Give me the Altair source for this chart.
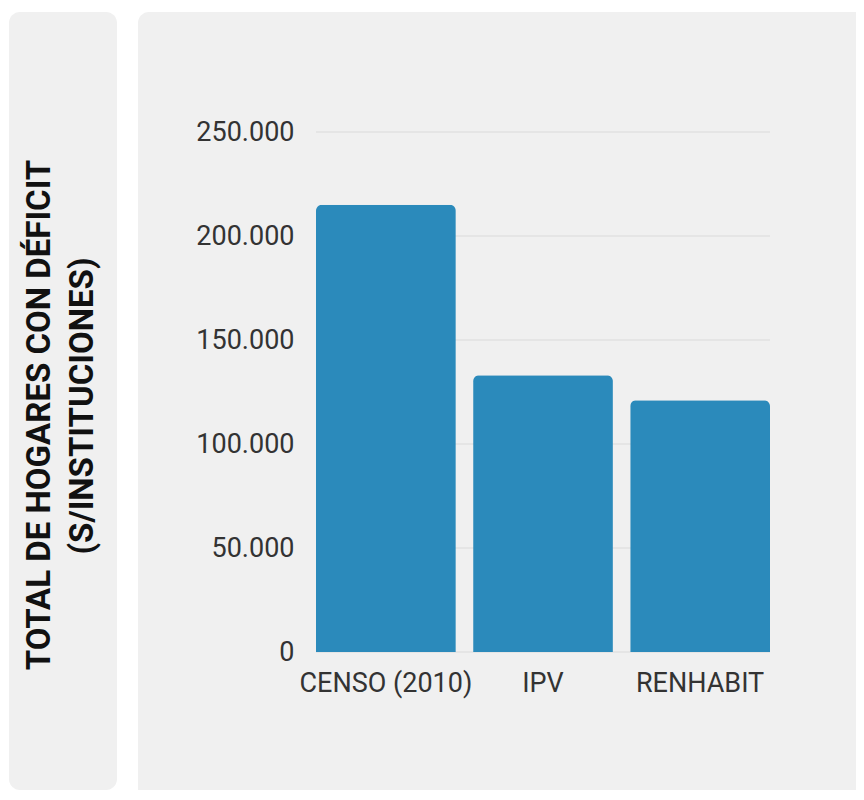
import altair as alt
import pandas as pd

# ---- data ----
categorias = ["CENSO (2010)", "IPV", "RENHABIT"]
hogares = [215000, 133000, 121000]
marcas_eje = [0, 50000, 100000, 150000, 200000, 250000]
titulo_linea1 = "TOTAL DE HOGARES CON DÉFICIT"
titulo_linea2 = "(S/INSTITUCIONES)"

W, H = 454, 520
FONT = "Roboto"
PANEL = "#f0f0f0"
BAR = "#2b8abb"

bars_df = pd.DataFrame({"categoria": categorias, "hogares": hogares})
grid_df = pd.DataFrame({"hogares": marcas_eje})
one = pd.DataFrame({"k": [0]})

yscale = alt.Scale(domain=[0, 250000], nice=False)
xscale = alt.Scale(paddingInner=0.11, paddingOuter=0)

yaxis = alt.Axis(
    title=None, values=marcas_eje, ticks=False, domain=False, grid=False,
    labelExpr="replace(format(datum.value, ','), ',', '.')",
    labelFont=FONT, labelFontSize=27, labelColor="#333333",
    labelPadding=22, labelFlush=False, zindex=1,
)

panel_left = alt.Chart(one).mark_rect(fill=PANEL, cornerRadius=11).encode(
    x=alt.value(-307), x2=alt.value(-199), y=alt.value(-120), y2=alt.value(658)
)
panel_right = alt.Chart(one).mark_rect(fill=PANEL, cornerRadiusTopLeft=11).encode(
    x=alt.value(-178), x2=alt.value(540), y=alt.value(-120), y2=alt.value(658)
)

grid = alt.Chart(grid_df).mark_rule(color="#d9d9d9", strokeWidth=1.2).encode(
    y=alt.Y("hogares:Q", scale=yscale, axis=yaxis),
    x=alt.value(0),
    x2=alt.value(W),
)

bars = alt.Chart(bars_df).mark_bar(
    color=BAR, cornerRadiusTopLeft=6, cornerRadiusTopRight=6
).encode(
    x=alt.X(
        "categoria:N",
        sort=categorias,
        scale=xscale,
        axis=alt.Axis(
            title=None, labelAngle=0, ticks=False, domain=False, grid=False,
            labelFont=FONT, labelFontSize=27, labelColor="#333333",
            labelPadding=18, labelOverlap=False, zindex=1,
        ),
    ),
    y=alt.Y("hogares:Q", scale=yscale, axis=yaxis),
)

t1 = alt.Chart(one).mark_text(
    text=titulo_linea1, angle=270, font=FONT, fontSize=33, fontWeight="bold",
    color="#111111", align="center", baseline="middle",
).encode(x=alt.value(-276), y=alt.value(283))

t2 = alt.Chart(one).mark_text(
    text=titulo_linea2, angle=270, font=FONT, fontSize=33, fontWeight="bold",
    color="#111111", align="center", baseline="middle",
).encode(x=alt.value(-233), y=alt.value(274))

chart = alt.layer(panel_left, panel_right, grid, bars, t1, t2).properties(
    width=W, height=H,
    padding={"left": 1, "top": 4, "right": 0, "bottom": 0},
    background="white",
).configure_view(stroke="transparent")

chart.save("out.html", embed_options={"renderer": "svg", "actions": False})
